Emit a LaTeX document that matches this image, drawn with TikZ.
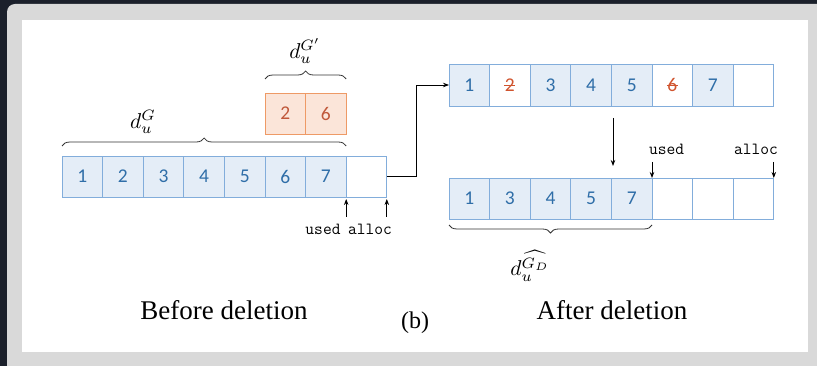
\documentclass[tikz,border=0pt]{standalone}
\usepackage{fontspec}
\setmainfont{Liberation Serif}
\newfontfamily\cellfont{Carlito}
\usetikzlibrary{arrows.meta,decorations.pathreplacing,calc}
\definecolor{bgdark}{HTML}{1B202B}
\definecolor{panelgray}{HTML}{D9D9D9}
\definecolor{bluefill}{HTML}{E4EDF7}
\definecolor{blueline}{HTML}{82ADDB}
\definecolor{bluetext}{HTML}{2F6EA8}
\definecolor{orfill}{HTML}{FBE5D9}
\definecolor{orline}{HTML}{EE9A66}
\definecolor{ortext}{HTML}{C0583A}
\definecolor{redtext}{HTML}{D0542E}
\newcommand{\biglabel}[1]{\scalebox{2.15}{$#1$}}
\tikzset{
  cellbox/.style={draw=blueline, line width=0.9pt, minimum width=40.6pt, minimum height=41pt,
    inner sep=0pt, outer sep=0pt, font=\cellfont\fontsize{19.5}{20}\selectfont, text=bluetext},
  bluecell/.style={cellbox, fill=bluefill},
  emptycell/.style={cellbox, fill=white},
  delcell/.style={cellbox, fill=white, text=redtext},
  orcell/.style={cellbox, draw=orline, fill=orfill, text=ortext},
  brc/.style={decorate, decoration={brace, amplitude=8pt}, line width=0.8pt, draw=black!80},
  ptr/.style={-{Stealth[length=6pt,width=4.5pt]}, line width=0.8pt, draw=black},
  ttlabel/.style={font=\ttfamily\fontsize{17}{18}\selectfont, inner sep=0pt},
  mathlabel/.style={inner sep=0pt},
  caption/.style={font=\fontsize{27}{30}\selectfont, inner sep=0pt},
  strike/.style={draw=redtext, line width=0.9pt}
}
\begin{document}
\begin{tikzpicture}[x=1pt,y=-1pt]
\useasboundingbox (0,0) rectangle (817,366);
\fill[bgdark] (0,0) rectangle (817,366);
\fill[panelgray, rounded corners=8pt] (7,4) rectangle (840,390);
\fill[white] (22,20) rectangle (808,352);

% ---------- Before deletion ----------
\foreach \i/\t in {1/1,2/2,3/3,4/4,5/5,6/6,7/7}{
  \node[bluecell] (a\i) at ({62+(\i-0.5)*40.6},176.5) {\t};
}
\node[emptycell] (a8) at ({62+7.5*40.6},176.5) {};
\node[orcell] (o1) at ({62+5.5*40.6},113.5) {2};
\node[orcell] (o2) at ({62+6.5*40.6},113.5) {6};

\draw[brc] ($(a1.north west)+(0,-10)$) -- ($(a7.north east)+(0,-10)$);
\node[mathlabel] (dG) at (143,122) {\biglabel{d_u^{G}}};
\draw[brc] ($(o1.north west)+(0,-14)$) -- ($(o2.north east)+(0,-14)$);
\node[mathlabel] (dGp) at (305,51) {\biglabel{d_u^{G'}}};

\coordinate (uA) at ($(a7.south east)+(0,20)$);
\coordinate (aA) at ($(a8.south east)+(0,20)$);
\draw[ptr] (uA) -- ($(a7.south east)+(0,2)$);
\draw[ptr] (aA) -- ($(a8.south east)+(0,2)$);
\node[ttlabel] (used1) at (323,229) {used};
\node[ttlabel] (alloc1) at (370,229) {alloc};

\node[caption] (before) at (224,310) {Before deletion};

% ---------- Top right array ----------
\foreach \i/\t in {1/1,3/3,4/4,5/5,7/7}{
  \node[bluecell, minimum height=42pt] (b\i) at ({449+(\i-0.5)*40.6},85) {\t};
}
\node[delcell, minimum height=42pt] (b2) at ({449+1.5*40.6},85) {2};
\node[delcell, minimum height=42pt] (b6) at ({449+5.5*40.6},85) {6};
\node[emptycell, minimum height=42pt] (b8) at ({449+7.5*40.6},85) {};
\draw[strike] ($(b2.center)+(-5.5,0.5)$) -- ($(b2.center)+(5.5,0.5)$);
\draw[strike] ($(b6.center)+(-5.5,0.5)$) -- ($(b6.center)+(5.5,0.5)$);

\coordinate (bend) at (416,0);
\draw[ptr] (a8.east) -- (bend |- a8.east) -- (bend |- b1.west) -- (b1.west);

% ---------- Bottom right array ----------
\foreach \i/\t in {1/1,2/3,3/4,4/5,5/7}{
  \node[bluecell] (c\i) at ({449+(\i-0.5)*40.6},198.5) {\t};
}
\foreach \i in {6,7,8}{
  \node[emptycell] (c\i) at ({449+(\i-0.5)*40.6},198.5) {};
}
\coordinate (dtop) at (613,118);
\coordinate (dbot) at (613,166);
\draw[ptr] (dtop) -- (dbot);

\draw[ptr] ($(c5.north east)+(0,-16)$) -- (c5.north east);
\draw[ptr] ($(c8.north east)+(0,-16)$) -- (c8.north east);
\node[ttlabel, anchor=west] (used2) at (649,149) {used};
\node[ttlabel, anchor=east] (alloc2) at (778,149) {alloc};

\draw[brc] ($(c5.south east)+(0,6)$) -- ($(c1.south west)+(0,6)$);
\node[mathlabel] (dGD) at (530,266) {\biglabel{d_u^{\widehat{G_D}}}};

\node[caption] (after) at (612,310) {After deletion};
\node[font=\fontsize{24}{26}\selectfont, inner sep=0pt] (b) at (415,323) {(b)};
\end{tikzpicture}
\end{document}
